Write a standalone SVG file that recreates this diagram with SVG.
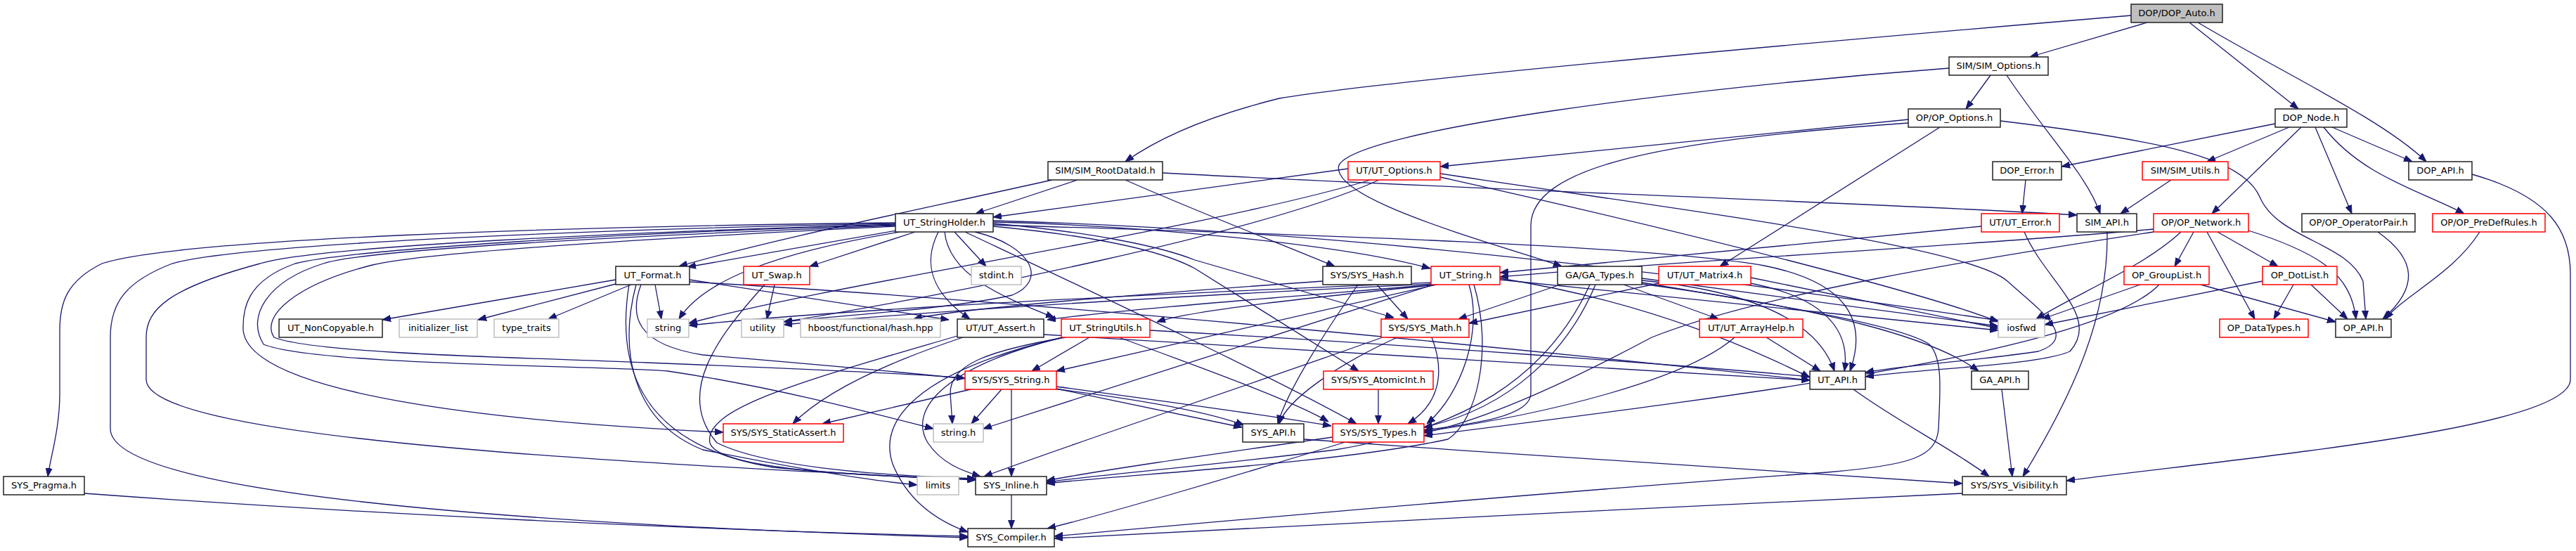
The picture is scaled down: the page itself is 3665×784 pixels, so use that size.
<svg xmlns="http://www.w3.org/2000/svg" width="3665" height="784" viewBox="0 0 3665 784">
<defs>
<marker id="a" markerWidth="12" markerHeight="10" refX="12" refY="5" orient="auto" markerUnits="userSpaceOnUse"><path d="M0,0.5 L12,5 L0,9.5 z" fill="#191970" stroke="#191970" stroke-width="1"/></marker>
<style>
.node rect{fill:#fff;stroke:#222;stroke-width:1.5}
.node.r rect{stroke:#ff0000}
.node.g rect{stroke:#bfbfbf}
.node.root rect{fill:#bfbfbf}
.node text{font-family:"DejaVu Sans","Liberation Sans",sans-serif;font-size:13px;fill:#000;text-anchor:middle}
#edges path{fill:none;stroke:#191970;stroke-width:1.3;marker-end:url(#a)}
</style>
</defs>
<rect width="3665" height="784" fill="#fff"/>
<g id="edges">
<path d="M3032,22 C2700,50 2000,110 1820,140 C1720,165 1650,195 1601,230"/>
<path d="M3055,32 L2888,81"/>
<path d="M3115,32 L3270,155"/>
<path d="M3127,32 C3250,105 3390,170 3452,230"/>
<path d="M2773,97 C2400,125 1930,185 1905,235 C1890,285 2140,350 2222,379"/>
<path d="M2832,107 L2797,155"/>
<path d="M2855,107 C2910,190 2970,250 2988,304"/>
<path d="M2715,170 L2049,237"/>
<path d="M2715,175 C2350,200 2180,240 2178,320 L2178,560 C2178,595 2080,605 2026,612"/>
<path d="M2760,181 L2447,379"/>
<path d="M2846,172 C3080,200 3190,225 3215,280 C3240,340 3340,345 3362,400 L3366,454"/>
<path d="M3237,176 L2933,237"/>
<path d="M3257,181 L3140,230"/>
<path d="M3274,181 L3147,304"/>
<path d="M3294,181 L3346,304"/>
<path d="M3306,181 C3360,250 3440,270 3506,304"/>
<path d="M3318,181 L3432,230"/>
<path d="M2882,256 L2877,304"/>
<path d="M3089,256 L3017,304"/>
<path d="M3517,248 C3630,280 3657,330 3657,390 L3657,540 C3657,610 3200,650 2940,684"/>
<path d="M2998,330 C3000,450 2950,560 2878,678"/>
<path d="M1654,246 C2100,270 2700,290 2955,306"/>
<path d="M1533,256 L1388,304"/>
<path d="M1497,256 C1300,300 1100,340 966,379"/>
<path d="M1601,256 C1700,300 1830,350 1899,379"/>
<path d="M1918,240 L1413,309"/>
<path d="M1950,256 C1700,330 1200,400 980,460"/>
<path d="M1962,256 C1800,330 1350,420 1115,458"/>
<path d="M2049,247 C2400,300 2800,350 2856,400 C2900,440 2960,480 2900,500 C2800,515 2700,520 2654,530"/>
<path d="M2049,252 C2400,330 2750,420 2843,458"/>
<path d="M2819,322 C2600,345 2300,370 2134,388"/>
<path d="M2880,330 C2910,400 2990,450 2945,500 C2900,520 2740,524 2654,536"/>
<path d="M3064,326 C2800,350 2400,370 2134,394"/>
<path d="M3064,330 C2800,370 2500,420 2350,480 C2200,560 2100,600 2026,616"/>
<path d="M3103,330 C3050,380 2950,420 2897,454"/>
<path d="M3121,330 L3094,379"/>
<path d="M3140,330 L3208,454"/>
<path d="M3155,330 L3241,379"/>
<path d="M3199,328 C3300,360 3345,390 3352,454"/>
<path d="M3383,330 C3440,370 3440,410 3390,454"/>
<path d="M3528,330 C3490,390 3420,420 3394,454"/>
<path d="M3263,405 L3235,454"/>
<path d="M3288,405 L3340,454"/>
<path d="M3219,400 L2909,462"/>
<path d="M3045,405 L2905,454"/>
<path d="M3131,405 L3323,458"/>
<path d="M3072,405 C2980,500 2500,560 2026,620"/>
<path d="M2220,405 L2075,454"/>
<path d="M2270,405 C2230,500 2150,580 2026,608"/>
<path d="M2262,405 C2200,540 2080,610 1900,640 C1700,665 1560,676 1489,686"/>
<path d="M2336,402 C2500,430 2700,460 2745,490 C2765,510 2760,560 2758,610 C2755,650 2720,662 2600,672 C2200,700 1700,745 1500,763"/>
<path d="M2310,405 L2445,454"/>
<path d="M2336,399 C2450,410 2580,440 2610,528"/>
<path d="M2336,404 C2600,440 2750,480 2815,528"/>
<path d="M2336,396 L2843,464"/>
<path d="M2360,403 L2090,460"/>
<path d="M2490,403 C2580,420 2635,460 2624,528"/>
<path d="M2491,395 L2843,467"/>
<path d="M2513,480 L2590,528"/>
<path d="M2468,480 C2400,540 2200,590 2026,614"/>
<path d="M1882,400 C1600,420 1350,440 1300,454"/>
<path d="M1959,405 L2003,454"/>
<path d="M1932,405 C1880,480 1830,560 1818,603"/>
<path d="M2036,402 C1600,420 1200,440 980,463"/>
<path d="M2036,404 C1600,425 1300,445 1115,462"/>
<path d="M2040,405 C1800,425 1600,440 1490,455"/>
<path d="M2045,405 C1900,420 1700,440 1646,458"/>
<path d="M2090,405 C2110,470 2080,560 2030,603"/>
<path d="M2097,405 C2125,500 2100,600 2060,625 C1900,660 1600,675 1489,688"/>
<path d="M2043,405 C1800,460 1600,505 1503,528"/>
<path d="M2040,405 C1800,480 1550,560 1399,610"/>
<path d="M2134,396 C2350,430 2500,500 2575,537"/>
<path d="M2134,398 L2843,470"/>
<path d="M1274,317 C800,322 250,340 145,375 C95,400 85,430 85,470 L85,560 C85,610 72,650 68,678"/>
<path d="M1274,318 C900,325 350,345 245,375 C180,400 157,430 157,480 L157,610 C157,700 700,745 1377,765"/>
<path d="M1274,319 C900,330 450,350 370,375 C240,410 208,440 208,480 L208,540 C208,620 800,655 1388,683"/>
<path d="M1274,320 C900,330 500,355 420,375 C350,400 345,440 346,470 C355,560 700,600 1029,615"/>
<path d="M1274,321 C900,335 520,355 460,375 C380,400 350,450 375,490 C450,520 850,520 950,528 C1100,550 1250,590 1328,610"/>
<path d="M1274,322 C900,340 600,360 530,377 C420,405 370,450 390,480 C450,505 800,510 920,516 C1150,525 1300,532 1373,538"/>
<path d="M1276,328 L978,380"/>
<path d="M1302,330 L1152,379"/>
<path d="M1358,330 L1403,379"/>
<path d="M1280,330 C1100,360 1000,400 966,454"/>
<path d="M1335,330 C1310,380 1330,420 1380,454"/>
<path d="M1344,330 C1350,390 1420,420 1500,452"/>
<path d="M1373,330 C1500,390 1800,530 1930,603"/>
<path d="M1413,316 C1600,320 1900,345 2035,382"/>
<path d="M1413,318 C1550,330 1650,350 1700,370 L1983,452"/>
<path d="M1413,322 C1550,335 1650,355 1700,382 L1933,528"/>
<path d="M1413,320 C1900,335 2350,350 2510,378 C2620,400 2660,450 2632,528"/>
<path d="M1413,314 C2000,330 2600,420 2843,456"/>
<path d="M1387,330 C1470,350 1490,400 1440,420 C1350,440 1200,448 1115,458"/>
<path d="M876,398 L544,455"/>
<path d="M876,404 L680,455"/>
<path d="M898,405 L780,454"/>
<path d="M932,405 L941,454"/>
<path d="M981,398 L1350,455"/>
<path d="M981,401 C1500,430 2200,500 2575,541"/>
<path d="M912,405 C895,450 905,490 1000,505 C1300,530 1650,560 1770,605"/>
<path d="M905,405 C880,500 900,600 1000,640 C1150,670 1250,685 1305,690"/>
<path d="M895,405 C870,560 950,640 1100,665 C1250,680 1350,680 1388,682"/>
<path d="M1102,405 L1091,454"/>
<path d="M1088,405 C1020,480 960,560 1020,630 C1100,670 1300,678 1388,681"/>
<path d="M1370,480 C1250,520 1170,560 1128,603"/>
<path d="M1485,476 C1900,500 2300,525 2575,541"/>
<path d="M1362,478 C1150,540 1000,580 1010,630 C1020,670 1250,678 1390,682"/>
<path d="M1550,480 L1468,528"/>
<path d="M1516,480 C1400,500 1352,520 1352,560 L1355,603"/>
<path d="M1512,480 C1350,520 1290,580 1320,630 C1340,660 1370,670 1395,678"/>
<path d="M1512,480 C1300,530 1250,600 1270,660 C1290,710 1330,740 1377,757"/>
<path d="M1592,480 C1700,520 1840,570 1890,600"/>
<path d="M1636,470 C2000,490 2400,520 2575,536"/>
<path d="M1381,554 L1170,603"/>
<path d="M1425,554 L1382,603"/>
<path d="M1439,554 L1439,678"/>
<path d="M1503,553 L1767,608"/>
<path d="M1503,550 C1650,570 1800,590 1894,606"/>
<path d="M1439,704 L1439,752"/>
<path d="M1896,622 C1700,650 1560,670 1489,684"/>
<path d="M1914,629 C1750,680 1560,735 1490,752"/>
<path d="M1855,625 C2200,650 2600,675 2792,688"/>
<path d="M2792,702 C2400,720 1800,750 1500,766"/>
<path d="M120,702 C500,730 1000,755 1377,763"/>
<path d="M2848,554 L2863,678"/>
<path d="M2637,554 C2700,600 2780,640 2830,678"/>
<path d="M1961,554 L1961,603"/>
<path d="M2037,480 C2060,540 2040,580 2003,603"/>
<path d="M1988,480 C1900,520 1830,570 1820,603"/>
<path d="M1967,480 C1800,540 1500,640 1400,678"/>
</g>
<g id="n1" class="node root"><rect x="3032" y="6" width="130" height="26"/><text x="3097" y="23">DOP/DOP_Auto.h</text></g>
<g id="n2" class="node"><rect x="2773" y="81" width="141" height="26"/><text x="2843.5" y="98">SIM/SIM_Options.h</text></g>
<g id="n3" class="node"><rect x="2715" y="155" width="131" height="26"/><text x="2780.5" y="172">OP/OP_Options.h</text></g>
<g id="n4" class="node"><rect x="3237" y="155" width="102" height="26"/><text x="3288" y="172">DOP_Node.h</text></g>
<g id="n5" class="node"><rect x="1491" y="230" width="163" height="26"/><text x="1572.5" y="247">SIM/SIM_RootDataId.h</text></g>
<g id="n6" class="node r"><rect x="1918" y="230" width="131" height="26"/><text x="1983.5" y="247">UT/UT_Options.h</text></g>
<g id="n7" class="node"><rect x="2835" y="230" width="98" height="26"/><text x="2884" y="247">DOP_Error.h</text></g>
<g id="n8" class="node r"><rect x="3048" y="230" width="122" height="26"/><text x="3109" y="247">SIM/SIM_Utils.h</text></g>
<g id="n9" class="node"><rect x="3427" y="230" width="90" height="26"/><text x="3472" y="247">DOP_API.h</text></g>
<g id="n10" class="node"><rect x="1274" y="304" width="139" height="26"/><text x="1343.5" y="321">UT_StringHolder.h</text></g>
<g id="n11" class="node r"><rect x="2819" y="304" width="111" height="26"/><text x="2874.5" y="321">UT/UT_Error.h</text></g>
<g id="n12" class="node"><rect x="2955" y="304" width="85" height="26"/><text x="2997.5" y="321">SIM_API.h</text></g>
<g id="n13" class="node r"><rect x="3064" y="304" width="135" height="26"/><text x="3131.5" y="321">OP/OP_Network.h</text></g>
<g id="n14" class="node"><rect x="3275" y="304" width="161" height="26"/><text x="3355.5" y="321">OP/OP_OperatorPair.h</text></g>
<g id="n15" class="node r"><rect x="3461" y="304" width="160" height="26"/><text x="3541" y="321">OP/OP_PreDefRules.h</text></g>
<g id="n16" class="node"><rect x="876" y="379" width="105" height="26"/><text x="928.5" y="396">UT_Format.h</text></g>
<g id="n17" class="node r"><rect x="1058" y="379" width="94" height="26"/><text x="1105" y="396">UT_Swap.h</text></g>
<g id="n18" class="node g"><rect x="1382" y="379" width="71" height="26"/><text x="1417.5" y="396">stdint.h</text></g>
<g id="n19" class="node"><rect x="1882" y="379" width="126" height="26"/><text x="1945" y="396">SYS/SYS_Hash.h</text></g>
<g id="n20" class="node r"><rect x="2036" y="379" width="98" height="26"/><text x="2085" y="396">UT_String.h</text></g>
<g id="n21" class="node"><rect x="2216" y="379" width="120" height="26"/><text x="2276" y="396">GA/GA_Types.h</text></g>
<g id="n22" class="node r"><rect x="2360" y="379" width="131" height="26"/><text x="2425.5" y="396">UT/UT_Matrix4.h</text></g>
<g id="n23" class="node r"><rect x="3022" y="379" width="121" height="26"/><text x="3082.5" y="396">OP_GroupList.h</text></g>
<g id="n24" class="node r"><rect x="3219" y="379" width="106" height="26"/><text x="3272" y="396">OP_DotList.h</text></g>
<g id="n25" class="node"><rect x="397" y="454" width="147" height="26"/><text x="470.5" y="471">UT_NonCopyable.h</text></g>
<g id="n26" class="node g"><rect x="568" y="454" width="111" height="26"/><text x="623.5" y="471">initializer_list</text></g>
<g id="n27" class="node g"><rect x="703" y="454" width="92" height="26"/><text x="749" y="471">type_traits</text></g>
<g id="n28" class="node g"><rect x="921" y="454" width="59" height="26"/><text x="950.5" y="471">string</text></g>
<g id="n29" class="node g"><rect x="1055" y="454" width="60" height="26"/><text x="1085" y="471">utility</text></g>
<g id="n30" class="node g"><rect x="1139" y="454" width="199" height="26"/><text x="1238.5" y="471">hboost/functional/hash.hpp</text></g>
<g id="n31" class="node"><rect x="1362" y="454" width="123" height="26"/><text x="1423.5" y="471">UT/UT_Assert.h</text></g>
<g id="n32" class="node r"><rect x="1510" y="454" width="126" height="26"/><text x="1573" y="471">UT_StringUtils.h</text></g>
<g id="n33" class="node r"><rect x="1965" y="454" width="125" height="26"/><text x="2027.5" y="471">SYS/SYS_Math.h</text></g>
<g id="n34" class="node r"><rect x="2418" y="454" width="147" height="26"/><text x="2491.5" y="471">UT/UT_ArrayHelp.h</text></g>
<g id="n35" class="node g"><rect x="2843" y="454" width="66" height="26"/><text x="2876" y="471">iosfwd</text></g>
<g id="n36" class="node r"><rect x="3158" y="454" width="126" height="26"/><text x="3221" y="471">OP_DataTypes.h</text></g>
<g id="n37" class="node"><rect x="3323" y="454" width="79" height="26"/><text x="3362.5" y="471">OP_API.h</text></g>
<g id="n38" class="node r"><rect x="1373" y="528" width="130" height="26"/><text x="1438" y="545">SYS/SYS_String.h</text></g>
<g id="n39" class="node r"><rect x="1883" y="528" width="156" height="26"/><text x="1961" y="545">SYS/SYS_AtomicInt.h</text></g>
<g id="n40" class="node"><rect x="2575" y="528" width="79" height="26"/><text x="2614.5" y="545">UT_API.h</text></g>
<g id="n41" class="node"><rect x="2805" y="528" width="81" height="26"/><text x="2845.5" y="545">GA_API.h</text></g>
<g id="n42" class="node r"><rect x="1029" y="603" width="171" height="26"/><text x="1114.5" y="620">SYS/SYS_StaticAssert.h</text></g>
<g id="n43" class="node g"><rect x="1328" y="603" width="71" height="26"/><text x="1363.5" y="620">string.h</text></g>
<g id="n44" class="node"><rect x="1768" y="603" width="87" height="26"/><text x="1811.5" y="620">SYS_API.h</text></g>
<g id="n45" class="node r"><rect x="1896" y="603" width="130" height="26"/><text x="1961" y="620">SYS/SYS_Types.h</text></g>
<g id="n46" class="node"><rect x="5" y="678" width="115" height="26"/><text x="62.5" y="695">SYS_Pragma.h</text></g>
<g id="n47" class="node g"><rect x="1305" y="678" width="59" height="26"/><text x="1334.5" y="695">limits</text></g>
<g id="n48" class="node"><rect x="1388" y="678" width="101" height="26"/><text x="1438.5" y="695">SYS_Inline.h</text></g>
<g id="n49" class="node"><rect x="2792" y="678" width="148" height="26"/><text x="2866" y="695">SYS/SYS_Visibility.h</text></g>
<g id="n50" class="node"><rect x="1377" y="752" width="123" height="26"/><text x="1438.5" y="769">SYS_Compiler.h</text></g>
</svg>
